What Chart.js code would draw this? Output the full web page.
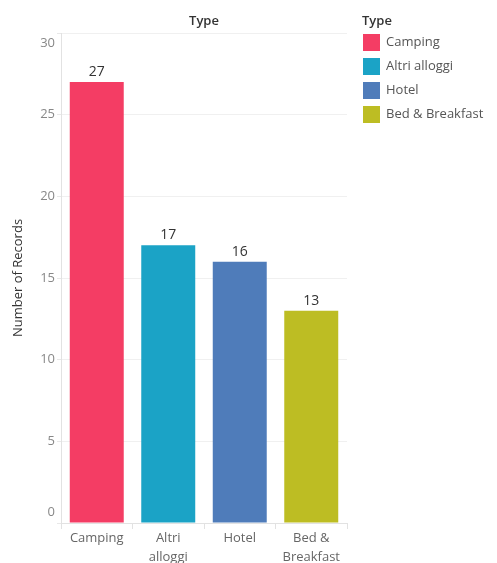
<!DOCTYPE html>
<html>
<head>
<meta charset="utf-8">
<script src="https://cdn.jsdelivr.net/npm/chart.js@4.4.1/dist/chart.umd.min.js"></script>
<style>
  body { margin: 0; background: #fff; }
  #wrap { width: 497px; height: 563px; position: relative; }
</style>
</head>
<body>
<div id="wrap"><canvas id="myChart"></canvas></div>
<script>
'use strict';

// DATA
const categories = ['Camping', 'Altri alloggi', 'Hotel', 'Bed & Breakfast'];
const tickLabels = [['Camping'], ['Altri', 'alloggi'], ['Hotel'], ['Bed &', 'Breakfast']];
const records = [27, 17, 16, 13];
const barColors = ['#F43D64', '#1BA3C6', '#4F7CBA', '#BDBD23'];
const yTicks = [0, 5, 10, 15, 20, 25, 30];

const FONT = '"Open Sans", "DejaVu Sans", sans-serif';

// y tick labels, pulled inside the axis at both ends like the original
const yLabelPlugin = {
  id: 'yLabels',
  afterDraw(chart) {
    let ctx = chart.ctx;
    let y = chart.scales.y;
    ctx.save();
    ctx.font = '13px ' + FONT;
    ctx.fillStyle = '#888';
    ctx.textAlign = 'right';
    ctx.textBaseline = 'middle';
    for (let i = 0; i < yTicks.length; i++) {
      let py = y.getPixelForValue(yTicks[i]);
      py = Math.min(Math.max(py, y.top + 10), y.bottom - 11);
      ctx.fillText(String(yTicks[i]), y.right - 6, py);
    }
    ctx.restore();
  }
};

// numbers on top of the bars
const valuePlugin = {
  id: 'values',
  afterDatasetsDraw(chart) {
    let ctx = chart.ctx;
    let meta = chart.getDatasetMeta(0);
    ctx.save();
    ctx.font = '14px ' + FONT;
    ctx.fillStyle = '#333';
    ctx.textAlign = 'center';
    ctx.textBaseline = 'bottom';
    meta.data.forEach(function (bar, i) {
      ctx.fillText(String(records[i]), bar.x, bar.y - 3);
    });
    ctx.restore();
  }
};

// legend on the right
const legendPlugin = {
  id: 'sideLegend',
  afterDraw(chart) {
    let ctx = chart.ctx;
    let x0 = chart.chartArea.right + 15;
    ctx.save();
    ctx.textBaseline = 'middle';
    ctx.textAlign = 'left';
    ctx.font = '600 13px ' + FONT;
    ctx.fillStyle = '#333';
    ctx.fillText('Type', x0, 21);
    ctx.font = '13px ' + FONT;
    for (let i = 0; i < categories.length; i++) {
      let cy = 42.5 + i * 24;
      ctx.fillStyle = barColors[i];
      ctx.fillRect(x0 + 1, cy - 8.5, 17, 17);
      ctx.fillStyle = '#555';
      ctx.fillText(categories[i], x0 + 24, cy);
    }
    ctx.restore();
  }
};

const data = {
  labels: tickLabels,
  datasets: [{
    label: 'Number of Records',
    data: records,
    backgroundColor: barColors,
    borderWidth: 0,
    barPercentage: 0.755,
    categoryPercentage: 1
  }]
};

const config = {
  type: 'bar',
  data: data,
  options: {
    responsive: true,
    maintainAspectRatio: false,
    animation: false,
    layout: { padding: { left: 0, right: 150, top: 0, bottom: 0 } },
    plugins: {
      legend: { display: false },
      tooltip: { enabled: false }
    },
    scales: {
      x: {
        position: 'bottom',
        afterFit(scale) { scale.height = 40; },
        grid: {
          offset: true,
          drawOnChartArea: false,
          drawTicks: true,
          tickLength: 6,
          color: '#e2e2e2'
        },
        border: { display: true, color: '#e2e2e2' },
        ticks: {
          color: '#666',
          padding: 0,
          maxRotation: 0,
          font: { family: FONT, size: 13, lineHeight: 1.45 }
        }
      },
      xTop: {
        type: 'category',
        position: 'top',
        afterFit(scale) { scale.height = 33; },
        grid: { display: false },
        border: { display: false },
        ticks: { display: false },
        title: {
          display: true,
          text: 'Type',
          color: '#333',
          padding: { top: 13, bottom: 0 },
          font: { family: FONT, size: 13, weight: '600' }
        }
      },
      y: {
        min: 0,
        max: 30,
        afterFit(scale) { scale.width = 61; },
        afterBuildTicks(scale) {
          scale.ticks = yTicks.map(function (v) { return { value: v }; });
        },
        grid: {
          color: '#f0f0f0',
          tickLength: 4,
          tickColor: '#e8e8e8'
        },
        border: { display: true, color: '#e2e2e2' },
        ticks: { display: false },
        title: {
          display: true,
          text: 'Number of Records',
          color: '#333',
          padding: { top: 10, bottom: 0 },
          font: { family: FONT, size: 13 }
        }
      }
    }
  },
  plugins: [valuePlugin, yLabelPlugin, legendPlugin]
};

const myChart = new Chart(document.getElementById('myChart'), config);
</script>
</body>
</html>
